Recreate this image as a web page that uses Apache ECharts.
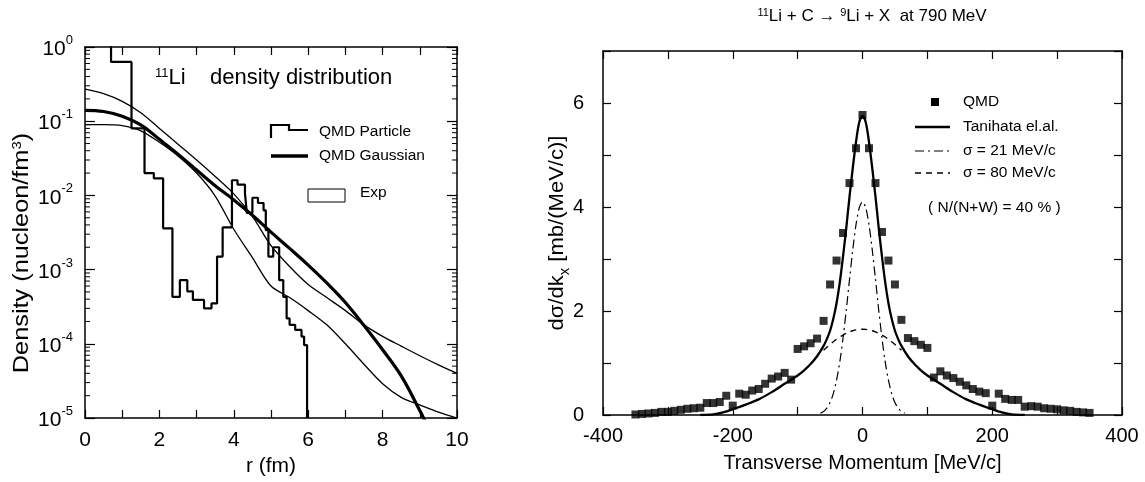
<!DOCTYPE html>
<html>
<head>
<meta charset="utf-8">
<script src="https://cdn.jsdelivr.net/npm/echarts@6/dist/echarts.min.js"></script>
<style>
  html, body { margin: 0; padding: 0; background: #fff; }
  #chart { width: 1145px; height: 482px; }
</style>
</head>
<body>
<div id="chart"></div>
<script>
// ---------- Left panel: 11Li density distribution ----------
// QMD particle histogram: bin edges (fm) and density per bin (nucleon/fm^3)
const rHistEdges = [0, 0.7, 1.25, 1.6, 1.85, 2.1, 2.35, 2.55, 2.75, 2.9, 3.2, 3.4, 3.55, 3.7, 3.95, 4.1, 4.3, 4.35, 4.5, 4.65, 4.8, 4.86, 4.93, 5.06, 5.22, 5.33, 5.42, 5.5, 5.65, 5.82, 5.89, 5.97];
const qmdParticle = [3, 0.63, 0.08, 0.02, 0.017, 0.0036, 0.00043, 0.00072, 0.00051, 0.00039, 0.0003, 0.00035, 0.0015, 0.0037, 0.016, 0.014, 0.0107, 0.0058, 0.0093, 0.0079, 0.0063, 0.0034, 0.0015, 0.002, 0.00072, 0.00043, 0.00022, 0.00018, 0.000154, 0.000125, 0.000096];

// QMD Gaussian density (thick curve)
const rGauss = [0, 0.5, 1, 1.5, 2, 2.5, 3, 3.5, 4, 4.5, 5, 5.5, 6, 6.5, 7, 7.5, 8, 8.5, 9, 9.2];
const qmdGaussian = [0.14, 0.135, 0.117, 0.089, 0.057, 0.036, 0.022, 0.0135, 0.0087, 0.0054, 0.0032, 0.00193, 0.00115, 0.00066, 0.00036, 0.000176, 0.000083, 0.000037, 0.0000126, 0.0000079];

// Experimental densities (thin curves)
const rExp = [0, 0.5, 1, 1.5, 2, 2.5, 3, 3.5, 4, 4.5, 5, 5.5, 6, 6.5, 7, 7.5, 8, 8.5, 9, 9.5, 10];
const expUpper = [0.27, 0.235, 0.185, 0.13, 0.08, 0.049, 0.03, 0.018, 0.0105, 0.0052, 0.0021, 0.0011, 0.00063, 0.00042, 0.00028, 0.00018, 0.000126, 0.000093, 0.000069, 0.000052, 0.00004];
const expLower = [0.09, 0.09, 0.087, 0.074, 0.052, 0.034, 0.02, 0.0098, 0.0035, 0.00145, 0.0006, 0.00042, 0.00028, 0.00018, 0.0001, 0.000053, 0.000029, 0.000019, 0.000015, 0.000012, 0.00001];

// ---------- Right panel: transverse momentum distribution ----------
const qmdMomentum = [-350, -340, -330, -320, -310, -300, -290, -280, -270, -260, -250, -240, -230, -220, -210, -200, -190, -180, -170, -160, -150, -140, -130, -120, -110, -100, -90, -80, -70, -60, -50, -40, -30, -20, -10, 0, 10, 20, 30, 40, 50, 60, 70, 80, 90, 100, 110, 120, 130, 140, 150, 160, 170, 180, 190, 200, 210, 220, 230, 240, 250, 260, 270, 280, 290, 300, 310, 320, 330, 340, 350];
const qmdCross = [0.01, 0.02, 0.03, 0.04, 0.06, 0.06, 0.08, 0.10, 0.12, 0.13, 0.14, 0.23, 0.23, 0.25, 0.37, 0.18, 0.41, 0.39, 0.47, 0.50, 0.60, 0.70, 0.74, 0.81, 0.68, 1.27, 1.32, 1.38, 1.47, 1.81, 2.51, 2.97, 3.50, 4.46, 5.13, 5.77, 5.13, 4.46, 3.52, 2.97, 2.51, 1.83, 1.48, 1.42, 1.35, 1.29, 0.72, 0.84, 0.76, 0.71, 0.64, 0.57, 0.50, 0.45, 0.42, 0.18, 0.41, 0.31, 0.29, 0.29, 0.16, 0.17, 0.16, 0.13, 0.12, 0.11, 0.09, 0.08, 0.06, 0.05, 0.04];

const tanihataMomentum = [-250, -230, -215, -200, -180, -160, -140, -120, -100, -90, -80, -70, -60, -55, -50, -45, -40, -35, -30, -25, -20, -15, -10, -5, 0, 5, 10, 15, 20, 25, 30, 35, 40, 45, 50, 55, 60, 70, 80, 90, 100, 120, 140, 160, 180, 200, 215, 230, 250];
const tanihataCross = [0, 0.01, 0.05, 0.11, 0.2, 0.3, 0.44, 0.6, 0.76, 0.86, 0.98, 1.13, 1.33, 1.46, 1.62, 1.85, 2.15, 2.55, 3.05, 3.6, 4.2, 4.75, 5.25, 5.63, 5.75, 5.63, 5.25, 4.75, 4.2, 3.6, 3.05, 2.55, 2.15, 1.85, 1.62, 1.46, 1.33, 1.13, 0.98, 0.86, 0.76, 0.6, 0.44, 0.3, 0.2, 0.11, 0.05, 0.01, 0];

const narrowMomentum = [-65, -60, -55, -50, -45, -40, -35, -30, -25, -20, -15, -10, -5, 0, 5, 10, 15, 20, 25, 30, 35, 40, 45, 50, 55, 60, 65];
const narrowCross = [0.034, 0.069, 0.133, 0.24, 0.41, 0.67, 1.02, 1.48, 2.02, 2.61, 3.18, 3.66, 3.985, 4.1, 3.985, 3.66, 3.18, 2.61, 2.02, 1.48, 1.02, 0.67, 0.41, 0.24, 0.133, 0.069, 0.034];

const wideMomentum = [-60, -55, -50, -45, -40, -35, -30, -25, -20, -15, -10, -5, 0, 5, 10, 15, 20, 25, 30, 35, 40, 45, 50, 55, 60];
const wideCross = [1.246, 1.303, 1.357, 1.409, 1.456, 1.5, 1.538, 1.571, 1.599, 1.621, 1.637, 1.646, 1.65, 1.646, 1.637, 1.621, 1.599, 1.571, 1.538, 1.5, 1.456, 1.409, 1.357, 1.303, 1.246];

// ---------- helpers ----------
const FONT = '"Liberation Sans", Arial, Helvetica, sans-serif';
const zip = (xs, ys) => xs.map((x, i) => [x, ys[i]]);

// step outline of the histogram: each bin drawn at its value from its left edge
const histData = qmdParticle.map((v, i) => [rHistEdges[i], v]);
histData.push([rHistEdges[rHistEdges.length - 1], qmdParticle[qmdParticle.length - 1]]);
histData.push([rHistEdges[rHistEdges.length - 1], 1e-5]);

// minor ticks (2..9 x 10^n) of the log density axis
const logMinor = [];
for (let e = -5; e < 0; e++) for (let k = 2; k <= 9; k++) logMinor.push([0, k * Math.pow(10, e)]);

const axisLineStyle = { color: '#000', width: 1.5 };
const tickStyle = { color: '#000', width: 1.2 };

function frameAxis(opts) {
  return Object.assign({
    axisLine: { show: true, onZero: false, lineStyle: axisLineStyle },
    axisTick: { show: true, inside: true, length: 8, lineStyle: tickStyle },
    splitLine: { show: false },
    axisLabel: { show: false }
  }, opts);
}

const expLabel = (v) => '{b|10}{s|' + Math.round(Math.log10(v)) + '}';
const plainText = (x, y, text, size, align) => ({
  type: 'text', x: x, y: y,
  style: { text: text, fontSize: size, fontFamily: FONT, fill: '#000',
    align: align || 'left', verticalAlign: 'middle', textAlign: align || 'left', textVerticalAlign: 'middle' }
});

const option = {
  backgroundColor: '#fff',
  animation: false,
  grid: [
    { left: 85, top: 47, width: 372, height: 371 },
    { left: 603, top: 51, width: 519, height: 364 }
  ],
  xAxis: [
    frameAxis({
      gridIndex: 0, type: 'value', min: 0, max: 10, interval: 1, position: 'bottom',
      axisLabel: { show: true, margin: 12, fontSize: 21, color: '#000', fontFamily: FONT,
        formatter: (v) => (v % 2 === 0 ? String(v) : '') },
      name: 'r (fm)', nameLocation: 'middle', nameGap: 38,
      nameTextStyle: { fontSize: 21, color: '#000', fontFamily: FONT }
    }),
    frameAxis({ gridIndex: 0, type: 'value', min: 0, max: 10, interval: 1, position: 'top' }),
    frameAxis({
      gridIndex: 1, type: 'value', min: -400, max: 400, interval: 100, position: 'bottom',
      axisLabel: { show: true, margin: 11, fontSize: 20, color: '#000', fontFamily: FONT,
        formatter: (v) => (v % 200 === 0 ? String(v) : '') },
      name: 'Transverse Momentum [MeV/c]', nameLocation: 'middle', nameGap: 38,
      nameTextStyle: { fontSize: 20, color: '#000', fontFamily: FONT }
    }),
    frameAxis({ gridIndex: 1, type: 'value', min: -400, max: 400, interval: 100, position: 'top' })
  ],
  yAxis: [
    frameAxis({
      gridIndex: 0, type: 'log', logBase: 10, min: 1e-5, max: 1, position: 'left',
      axisTick: { show: true, inside: true, length: 10, lineStyle: tickStyle },
      axisLabel: { show: true, margin: 12, color: '#000', fontFamily: FONT, formatter: expLabel,
        rich: {
          b: { fontSize: 21, fontFamily: FONT, color: '#000', lineHeight: 26, verticalAlign: 'bottom' },
          s: { fontSize: 13, fontFamily: FONT, color: '#000', verticalAlign: 'top' }
        } }
    }),
    frameAxis({
      gridIndex: 0, type: 'log', logBase: 10, min: 1e-5, max: 1, position: 'right',
      axisTick: { show: true, inside: true, length: 10, lineStyle: tickStyle }
    }),
    frameAxis({
      gridIndex: 1, type: 'value', min: 0, max: 7, interval: 1, position: 'left',
      axisLabel: { show: true, margin: 19, fontSize: 20, color: '#000', fontFamily: FONT,
        formatter: (v) => (v % 2 === 0 && v < 7 ? String(v) : '') }
    }),
    frameAxis({ gridIndex: 1, type: 'value', min: 0, max: 7, interval: 1, position: 'right' })
  ],
  series: [
    {
      name: 'log minor ticks', type: 'custom', xAxisIndex: 0, yAxisIndex: 0, silent: true, clip: false,
      data: logMinor,
      renderItem: (params, api) => {
        const v = api.value(1);
        const pl = api.coord([0, v]);
        const pr = api.coord([10, v]);
        return {
          type: 'group',
          children: [
            { type: 'line', shape: { x1: pl[0], y1: pl[1], x2: pl[0] + 5, y2: pl[1] }, style: { stroke: '#000', lineWidth: 1 } },
            { type: 'line', shape: { x1: pr[0] - 5, y1: pr[1], x2: pr[0], y2: pr[1] }, style: { stroke: '#000', lineWidth: 1 } }
          ]
        };
      }
    },
    {
      name: 'Exp upper', type: 'line', xAxisIndex: 0, yAxisIndex: 0, data: zip(rExp, expUpper),
      symbol: 'none', smooth: 0.3, lineStyle: { color: '#000', width: 1.3 }
    },
    {
      name: 'Exp lower', type: 'line', xAxisIndex: 0, yAxisIndex: 0, data: zip(rExp, expLower),
      symbol: 'none', smooth: 0.3, lineStyle: { color: '#000', width: 1.3 }
    },
    {
      name: 'QMD Gaussian', type: 'line', xAxisIndex: 0, yAxisIndex: 0, data: zip(rGauss, qmdGaussian),
      symbol: 'none', smooth: 0.4, lineStyle: { color: '#000', width: 3.2 }
    },
    {
      name: 'QMD Particle', type: 'line', xAxisIndex: 0, yAxisIndex: 0, data: histData,
      symbol: 'none', step: 'end', lineStyle: { color: '#000', width: 2.2 }
    },
    {
      name: 'σ = 80 MeV/c', type: 'line', xAxisIndex: 2, yAxisIndex: 2, data: zip(wideMomentum, wideCross),
      symbol: 'none', smooth: 0.3, lineStyle: { color: '#000', width: 1.4, type: [6, 5] }
    },
    {
      name: 'σ = 21 MeV/c', type: 'line', xAxisIndex: 2, yAxisIndex: 2, data: zip(narrowMomentum, narrowCross),
      symbol: 'none', smooth: 0.3, lineStyle: { color: '#000', width: 1.2, type: [9, 4, 2, 4] }
    },
    {
      name: 'Tanihata el.al.', type: 'line', xAxisIndex: 2, yAxisIndex: 2, data: zip(tanihataMomentum, tanihataCross),
      symbol: 'none', smooth: 0.3, lineStyle: { color: '#000', width: 2.3 }
    },
    {
      name: 'QMD', type: 'scatter', xAxisIndex: 2, yAxisIndex: 2, data: zip(qmdMomentum, qmdCross),
      symbol: 'rect', symbolSize: 8, itemStyle: { color: '#000' }, z: 5
    }
  ],
  graphic: [
    // left panel title
    { type: 'text', x: 155, y: 78, style: {
      text: '{s|11}Li    density distribution', fontSize: 22, fontFamily: FONT, fill: '#000',
      align: 'left', verticalAlign: 'middle', textAlign: 'left', textVerticalAlign: 'middle',
      rich: { s: { fontSize: 13, fontFamily: FONT, verticalAlign: 'top' } } } },
    // left panel y-axis name
    { type: 'text', x: 22, y: 253, rotation: Math.PI / 2, scaleX: 1.15, style: {
      text: 'Density (nucleon/fm{s|3})', fontSize: 22, fontFamily: FONT, fill: '#000',
      align: 'center', verticalAlign: 'middle', textAlign: 'center', textVerticalAlign: 'middle',
      rich: { s: { fontSize: 13, fontFamily: FONT, verticalAlign: 'top' } } } },
    // left panel legend
    { type: 'polyline', shape: { points: [[271, 138], [271, 125], [289, 125], [289, 130], [308, 130]] },
      style: { stroke: '#000', lineWidth: 2.2, fill: null } },
    plainText(319, 132, 'QMD Particle', 15.5),
    { type: 'line', shape: { x1: 271, y1: 156, x2: 308, y2: 156 }, style: { stroke: '#000', lineWidth: 3.4 } },
    plainText(319, 156, 'QMD Gaussian', 15.5),
    { type: 'rect', shape: { x: 308, y: 189, width: 37, height: 13 }, style: { stroke: '#000', lineWidth: 1, fill: null } },
    plainText(360, 193, 'Exp', 15.5),

    // right panel title
    { type: 'text', x: 872, y: 16, style: {
      text: '{s|11}Li + C \u2192 {s|9}Li + X  at 790 MeV', fontSize: 17, fontFamily: FONT, fill: '#000',
      align: 'center', verticalAlign: 'middle', textAlign: 'center', textVerticalAlign: 'middle',
      rich: { s: { fontSize: 11, fontFamily: FONT, verticalAlign: 'top' } } } },
    // right panel y-axis name
    { type: 'text', x: 557, y: 233, rotation: Math.PI / 2, scaleX: 1.05, style: {
      text: 'd\u03c3/dk{x|x} [mb/(MeV/c)]', fontSize: 21, fontFamily: FONT, fill: '#000',
      align: 'center', verticalAlign: 'middle', textAlign: 'center', textVerticalAlign: 'middle',
      rich: { x: { fontSize: 14, fontFamily: FONT, verticalAlign: 'bottom', lineHeight: 30 } } } },
    // right panel legend
    { type: 'rect', shape: { x: 931, y: 98, width: 8, height: 8 }, style: { fill: '#000' } },
    plainText(963, 102, 'QMD', 15.5),
    { type: 'line', shape: { x1: 915, y1: 127, x2: 950, y2: 127 }, style: { stroke: '#000', lineWidth: 2.3 } },
    plainText(963, 127, 'Tanihata el.al.', 15.5),
    { type: 'line', shape: { x1: 915, y1: 151, x2: 950, y2: 151 }, style: { stroke: '#000', lineWidth: 1.2, lineDash: [9, 4, 2, 4] } },
    plainText(963, 151, '\u03c3 = 21 MeV/c', 15.5),
    { type: 'line', shape: { x1: 915, y1: 173, x2: 950, y2: 173 }, style: { stroke: '#000', lineWidth: 1.4, lineDash: [6, 5] } },
    plainText(963, 173, '\u03c3 = 80 MeV/c', 15.5),
    plainText(928, 208, '( N/(N+W) = 40 % )', 15.5)
  ]
};

const chart = echarts.init(document.getElementById('chart'));
chart.setOption(option);
</script>
</body>
</html>
